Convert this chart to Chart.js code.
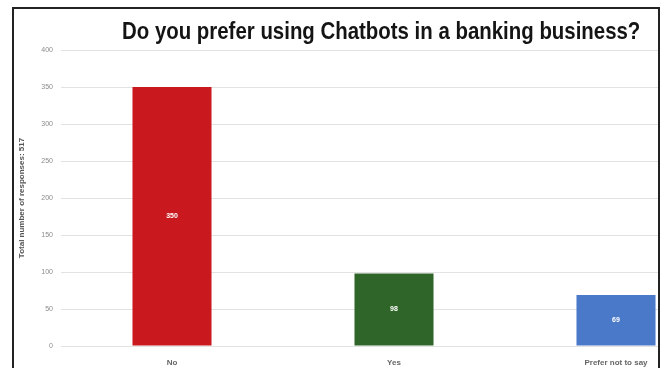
<!DOCTYPE html>
<html>
<head>
<meta charset="utf-8">
<script src="https://cdn.jsdelivr.net/npm/chart.js@4.4.1/dist/chart.umd.min.js"></script>
<style>
  html, body { margin: 0; padding: 0; background: #fff; overflow: hidden; }
  #frame {
    position: absolute; left: 12px; top: 7px; width: 644px; height: 370px;
    border-left: 2px solid #222; border-top: 2px solid #222; border-right: 2px solid #222;
    overflow: hidden; background: #fff;
  }
  #myChartBar { position: absolute; left: 0; top: 0; }
  #title {
    position: absolute; left: 108px; top: 8px; white-space: nowrap;
    font-family: "Liberation Sans", "DejaVu Sans", sans-serif;
    font-weight: bold; font-size: 24px; color: #141414;
    transform-origin: 0 0;
  }
</style>
</head>
<body>
<div id="frame">
  <canvas id="myChartBar" width="713" height="361"></canvas>
  <div id="title">Do you prefer using Chatbots in a banking business?</div>
</div>
<script>
const categories = ["No", "Yes", "Prefer not to say"];
const responses = [350, 98, 69];
const barColors = ["#C9191F", "#2F6529", "#4A79C9"];
const yTicks = [0, 50, 100, 150, 200, 250, 300, 350, 400];
const yTitle = "Total number of responses: 517";

// condensed look for the headline: squeeze it to the reference width
const titleEl = document.getElementById("title");
titleEl.style.transform = "scaleX(" + (518 / titleEl.offsetWidth) + ")";

// white value labels inside each bar
const valueLabels = {
  id: 'valueLabels',
  afterDatasetsDraw(chart) {
    const ctx = chart.ctx;
    const meta = chart.getDatasetMeta(0);
    ctx.save();
    ctx.fillStyle = "#ffffff";
    ctx.font = "bold 7px 'Liberation Sans', sans-serif";
    ctx.textAlign = "center";
    ctx.textBaseline = "middle";
    meta.data.forEach((bar, i) => {
      ctx.fillText(String(responses[i]), bar.x, (bar.y + bar.base) / 2);
    });
    ctx.restore();
  }
};

const myChart1 = document.getElementById("myChartBar").getContext("2d");
new Chart(myChart1, {
  plugins: [valueLabels],
  type: 'bar',
  data: {
    labels: categories,
    datasets: [{
      label: yTitle,
      backgroundColor: barColors,
      data: responses,
      categoryPercentage: 1,
      barPercentage: 0.356,
    }],
  },
  options: {
    responsive: false,
    animation: false,
    layout: { padding: { top: 41, left: 0, right: 0, bottom: 0 } },
    plugins: {
      legend: { display: false },
      tooltip: { enabled: false },
    },
    scales: {
      x: {
        grid: { display: false },
        border: { display: false },
        ticks: {
          color: "#666",
          padding: 4,
          font: { family: "'Liberation Sans', sans-serif", size: 8, weight: 'bold' },
        },
        afterFit: (s) => { s.height = 24; },
      },
      y: {
        min: 0,
        max: 400,
        afterBuildTicks: (s) => { s.ticks = yTicks.map(v => ({ value: v })); },
        grid: { color: "#e2e2e2", drawTicks: false, lineWidth: 1 },
        border: { display: false },
        ticks: {
          color: "#8a8a8a",
          padding: 8,
          font: { family: "'Liberation Sans', sans-serif", size: 7 },
        },
        title: {
          display: true,
          text: yTitle,
          color: "#555",
          padding: { top: 3, bottom: 0 },
          font: { family: "'Liberation Sans', sans-serif", size: 8, weight: 'bold' },
        },
        afterFit: (s) => { s.width = 47; },
      },
    },
  },
});
</script>
</body>
</html>
